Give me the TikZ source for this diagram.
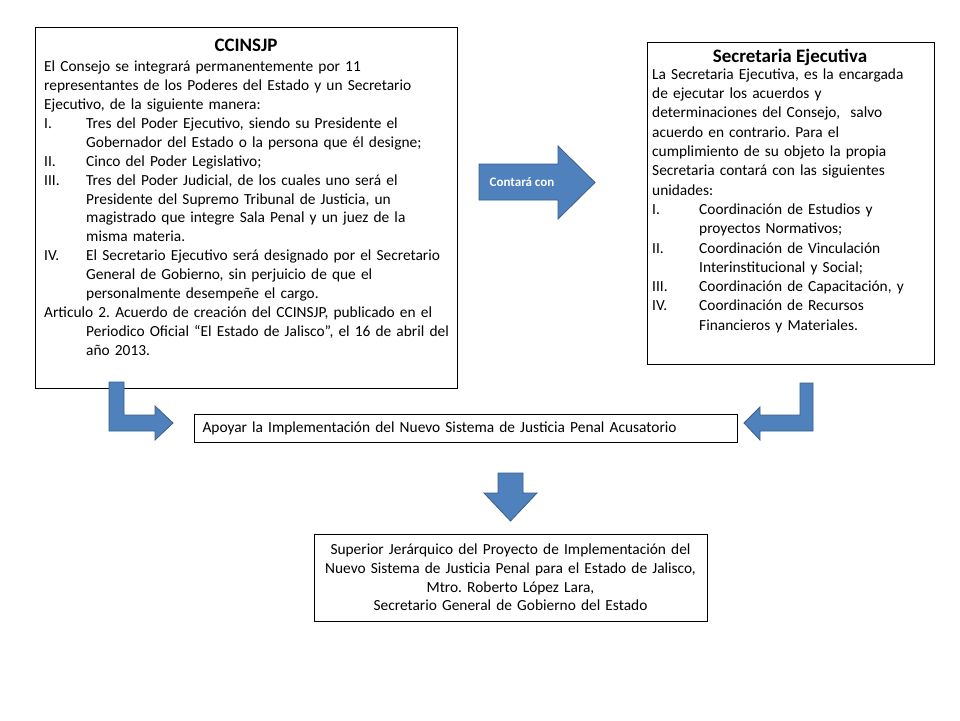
\documentclass[tikz,border=0pt]{standalone}
\usepackage{fontspec}
\setmainfont{Carlito}
\frenchspacing
\definecolor{arrowblue}{HTML}{4F81BD}
\definecolor{arrowedge}{HTML}{385D8A}
\newcommand{\bodysize}{\fontsize{15.4}{18.9}\selectfont}
\newcommand{\listrow}[3][42pt]{\par\hangindent=#1\hangafter=1\noindent\makebox[#1][l]{#2}#3\par}
\tikzset{
	panel/.style={draw, line width=1pt, inner sep=0pt, anchor=north west},
	paneltext/.style={inner sep=0pt, anchor=base west, text width=#1, font=\bodysize},
	paneltitle/.style={inner sep=0pt, anchor=base, font=\fontsize{19}{22}\selectfont\bfseries},
	blockarrow/.style={fill=arrowblue, draw=arrowedge, line width=0.8pt},
}
\begin{document}
\begin{tikzpicture}[x=1pt, y=-1pt]
	\useasboundingbox[fill=white] (0, 0) rectangle (960, 720);
	% consejo
	\node[panel, minimum width=422pt, minimum height=361pt] (ccinsjp) at (35, 27) {};
	\node[paneltitle] (ccinsjptitle) at (246, 51) {CCINSJP};
	\node[paneltext=430pt] (ccinsjptext) at (44, 71.7) {\raggedright
		El Consejo se integrará permanentemente por 11\newline
		representantes de los Poderes del Estado y un Secretario\newline
		Ejecutivo, de la siguiente manera:\par
		\listrow{I.}{Tres del Poder Ejecutivo, siendo su Presidente el\newline Gobernador del Estado o la persona que él designe;}
		\listrow{II.}{Cinco del Poder Legislativo;}
		\listrow{III.}{Tres del Poder Judicial, de los cuales uno será el\newline Presidente del Supremo Tribunal de Justicia, un\newline magistrado que integre Sala Penal y un juez de la\newline misma materia.}
		\listrow{IV.}{El Secretario Ejecutivo será designado por el Secretario\newline General de Gobierno, sin perjuicio de que el\newline personalmente desempeñe el cargo.}
		\par\hangindent=42pt\hangafter=1\noindent Articulo 2. Acuerdo de creación del CCINSJP, publicado en el\newline Periodico Oficial “El Estado de Jalisco”, el 16 de abril del\newline año 2013.\par};
	% secretaria
	\node[panel, minimum width=287pt, minimum height=322pt] (secretaria) at (647, 42) {};
	\node[paneltitle] (secretariatitle) at (790, 62.7) {Secretaria Ejecutiva};
	\node[paneltext=285pt, font=\fontsize{15.4}{19.3}\selectfont] (secretariatext) at (652, 79.3) {\raggedright
		La Secretaria Ejecutiva, es la encargada\newline
		de ejecutar los acuerdos y\newline
		determinaciones del Consejo,\ \ salvo\newline
		acuerdo en contrario. Para el\newline
		cumplimiento de su objeto la propia\newline
		Secretaria contará con las siguientes\newline
		unidades:\par
		\listrow[47pt]{I.}{Coordinación de Estudios y\newline proyectos Normativos;}
		\listrow[47pt]{II.}{Coordinación de Vinculación\newline Interinstitucional y Social;}
		\listrow[47pt]{III.}{Coordinación de Capacitación, y}
		\listrow[47pt]{IV.}{Coordinación de Recursos\newline Financieros y Materiales.}};
	% flechas
	\path[blockarrow] (479, 164) -- (558, 164) -- (558, 146) -- (595, 182.5) -- (558, 219) -- (558, 200) -- (479, 200) -- cycle;
	\node[text=white, font=\fontsize{13}{15}\selectfont\bfseries] (contara) at (522, 182) {Contará con};
	\path[blockarrow] (109, 382) -- (124, 382) -- (124, 415) -- (155, 415) -- (155, 406) -- (173, 423) -- (155, 440) -- (155, 431) -- (109, 431) -- cycle;
	\path[blockarrow] (800, 383) -- (813, 383) -- (813, 431) -- (760, 431) -- (760, 440) -- (744, 423) -- (760, 407) -- (760, 415) -- (800, 415) -- cycle;
	\path[blockarrow] (498, 473) -- (523, 473) -- (523, 493) -- (537, 493) -- (510.5, 521) -- (484, 493) -- (498, 493) -- cycle;
	% objetivo
	\node[panel, minimum width=543pt, minimum height=28pt, text width=527pt, inner xsep=8pt, align=left, font=\bodysize] (apoyar) at (194, 414) {Apoyar la Implementación del Nuevo Sistema de Justicia Penal Acusatorio};
	\node[panel, anchor=center, minimum width=393pt, minimum height=87pt, text width=393pt, align=center, font=\fontsize{15.4}{18.8}\selectfont] (superior) at (510.5, 577.5) {Superior Jerárquico del Proyecto de Implementación del\\ Nuevo Sistema de Justicia Penal para el Estado de Jalisco,\\ Mtro. Roberto López Lara,\\ Secretario General de Gobierno del Estado};
\end{tikzpicture}
\end{document}
